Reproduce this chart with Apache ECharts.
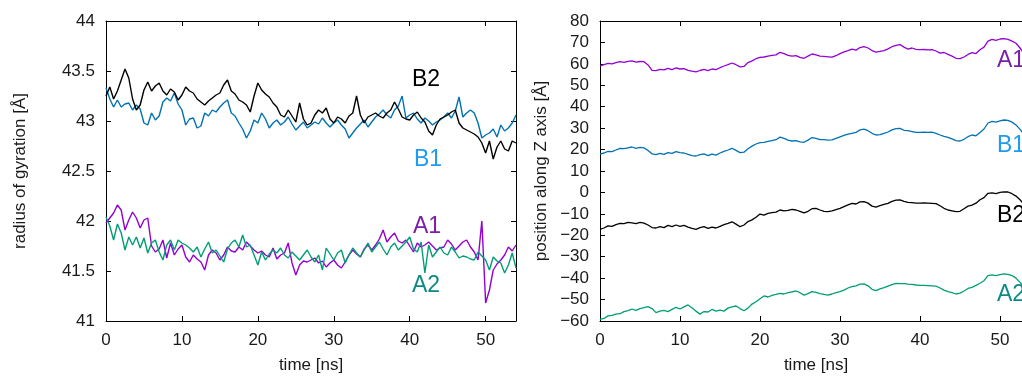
<!DOCTYPE html>
<html>
<head>
<meta charset="utf-8">
<title>Radius of gyration and Z position</title>
<script src="https://cdn.jsdelivr.net/npm/echarts@6.0.0/dist/echarts.min.js"></script>
<style>
  html, body { margin: 0; padding: 0; background: #fff; }
  #main { width: 1022px; height: 376px; }
</style>
</head>
<body>
<div id="main"></div>
<script>
// sampling step of all series [ns]
const dt = 0.5;

// left panel: radius of gyration [Å], one value every 0.5 ns from 0 to 54 ns
const rgA1 = [
  41.98, 42.03, 42.08, 42.16, 42.11, 41.91, 42.01, 42.09, 42.03, 41.93,
  42.01, 42.03, 41.75, 41.69, 41.72, 41.81, 41.63, 41.78, 41.66, 41.72,
  41.76, 41.64, 41.59, 41.66, 41.62, 41.59, 41.51, 41.66, 41.71, 41.68,
  41.61, 41.66, 41.74, 41.70, 41.69, 41.74, 41.71, 41.79, 41.75, 41.71,
  41.68, 41.70, 41.66, 41.64, 41.73, 41.62, 41.66, 41.68, 41.78, 41.58,
  41.46, 41.56, 41.60, 41.59, 41.61, 41.63, 41.58, 41.60, 41.54, 41.58,
  41.61, 41.56, 41.53, 41.59, 41.66, 41.71, 41.67, 41.64, 41.72, 41.76,
  41.71, 41.76, 41.82, 41.91, 41.79, 41.84, 41.88, 41.80, 41.78, 41.81,
  41.75, 41.69, 41.78, 41.74, 41.76, 41.79, 41.75, 41.71, 41.73, 41.74,
  41.81, 41.77, 41.71, 41.75, 41.79, 41.81, 41.74, 41.69, 41.61, 42.00,
  41.18, 41.31, 41.51, 41.57, 41.61, 41.66, 41.74, 41.70, 41.76
];
const rgA2 = [
  42.04, 41.95, 41.81, 41.97, 41.88, 41.71, 41.84, 41.76, 41.84, 41.73,
  41.83, 41.68, 41.78, 41.81, 41.69, 41.61, 41.76, 41.81, 41.71, 41.81,
  41.78, 41.76, 41.73, 41.69, 41.74, 41.64, 41.72, 41.79, 41.68, 41.71,
  41.65, 41.59, 41.72, 41.78, 41.81, 41.74, 41.86, 41.74, 41.76, 41.66,
  41.56, 41.69, 41.61, 41.67, 41.71, 41.68, 41.73, 41.66, 41.63, 41.69,
  41.65, 41.61, 41.66, 41.71, 41.64, 41.59, 41.66, 41.51, 41.73, 41.67,
  41.61, 41.68, 41.71, 41.58, 41.66, 41.73, 41.68, 41.64, 41.71, 41.78,
  41.69, 41.74, 41.79, 41.72, 41.66, 41.74, 41.78, 41.71, 41.75, 41.79,
  41.84, 41.72, 41.69, 41.79, 41.48, 41.76, 41.64, 41.69, 41.74, 41.68,
  41.66, 41.74, 41.69, 41.63, 41.65, 41.64, 41.62, 41.61, 41.69, 41.65,
  41.61, 41.51, 41.64, 41.60, 41.58, 41.48, 41.56, 41.68, 41.53
];
const rgB1 = [
  43.33, 43.22, 43.14, 43.21, 43.14, 43.17, 43.18, 43.11, 43.16, 43.12,
  42.98, 42.96, 43.08, 43.01, 43.05, 43.19, 43.23, 43.20, 43.28, 43.17,
  43.11, 42.96, 43.02, 43.03, 42.93, 42.95, 43.08, 43.05, 43.11, 43.09,
  43.14, 43.18, 43.21, 43.08, 43.05, 42.98, 42.92, 42.83, 42.90, 43.01,
  42.98, 43.08, 43.02, 42.93, 42.98, 43.01, 42.96, 42.99, 43.04, 42.97,
  42.91, 42.95, 42.99, 42.93, 42.96, 42.99, 42.97, 43.03, 42.98, 42.94,
  42.98, 43.01, 42.96, 42.92, 42.83, 42.88, 42.93, 42.97, 43.01, 42.94,
  42.99, 43.04, 43.07, 43.11, 43.06, 43.03, 43.11, 43.15, 43.25, 43.03,
  43.06, 43.08, 43.02, 42.98, 43.03, 43.00, 42.96, 42.99, 43.01, 43.04,
  43.08, 43.03, 43.10, 43.24, 43.04, 43.08, 43.11, 43.08, 42.98, 42.83,
  42.86, 42.88, 42.92, 42.84, 42.96, 42.90, 42.93, 42.98, 43.06
];
const rgB2 = [
  43.25, 43.34, 43.22, 43.30, 43.41, 43.52, 43.43, 43.22, 43.11, 43.16,
  43.31, 43.39, 43.30, 43.35, 43.38, 43.30, 43.26, 43.32, 43.29, 43.21,
  43.26, 43.34, 43.30, 43.28, 43.22, 43.19, 43.16, 43.20, 43.23, 43.26,
  43.28, 43.36, 43.41, 43.30, 43.27, 43.21, 43.19, 43.16, 43.09, 43.25,
  43.38, 43.31, 43.27, 43.24, 43.18, 43.14, 43.06, 43.04, 43.11, 43.05,
  42.99, 43.18, 43.02, 42.96, 42.98, 43.06, 43.11, 43.08, 43.13, 43.02,
  42.98, 43.04, 43.02, 42.98, 43.05, 43.08, 43.25, 43.06, 42.98, 43.04,
  43.06, 43.08, 43.05, 43.03, 43.08, 43.11, 43.19, 43.12, 43.04, 43.02,
  43.01, 43.06, 43.09, 43.03, 42.99, 42.90, 42.86, 42.96, 43.02, 43.04,
  43.06, 43.09, 43.11, 42.98, 42.93, 42.91, 42.89, 42.87, 42.84, 42.78,
  42.68, 42.80, 42.62, 42.74, 42.80, 42.72, 42.70, 42.80, 42.78
];

// right panel: position along Z axis [Å], same sampling
const zA1 = [
  59.0, 59.6, 60.2, 60.0, 60.6, 61.0, 60.7, 61.2, 61.4, 60.8,
  61.1, 61.0, 59.5, 57.0, 56.8, 57.4, 57.2, 57.9, 57.3, 58.1,
  57.6, 57.8, 57.0, 56.6, 56.3, 56.9, 57.4, 56.8, 57.6, 57.3,
  58.2, 59.0, 59.6, 60.4, 59.6, 58.6, 58.8, 60.6, 61.4, 62.4,
  63.0, 63.2, 63.6, 64.0, 64.2, 65.4, 64.8, 64.0, 63.6, 63.8,
  63.0, 62.6, 63.6, 64.6, 64.2, 63.6, 63.5, 63.3, 63.1, 63.8,
  64.8, 65.6, 66.2, 66.9, 66.4, 67.6, 68.0, 67.4, 66.2, 65.5,
  65.8, 66.2, 67.0, 68.0, 68.6, 69.0, 67.8, 66.9, 67.4, 66.8,
  66.6, 66.7, 66.5, 66.6, 66.0, 65.0, 65.3, 64.4, 63.6, 62.6,
  62.4, 63.2, 64.4, 65.2, 64.8, 66.6, 67.8, 70.6, 71.4, 71.0,
  71.6, 71.8, 71.4, 70.6, 69.6, 67.4, 64.8, 63.0, 61.5
];
const zB1 = [
  17.9, 18.4, 19.2, 19.0, 19.8, 20.6, 20.4, 20.8, 21.2, 20.6,
  21.0, 20.8, 19.6, 18.0, 17.6, 18.2, 17.8, 18.6, 18.2, 19.0,
  18.6, 18.4, 17.8, 17.2, 17.0, 17.6, 18.0, 17.2, 17.9, 17.4,
  18.4, 19.2, 19.8, 20.6, 19.6, 18.6, 18.8, 20.4, 21.6, 22.6,
  23.2, 23.4, 23.8, 24.2, 24.6, 25.8, 25.2, 24.4, 24.0, 24.2,
  23.6, 23.4, 24.4, 25.6, 25.2, 24.6, 24.6, 24.4, 24.5, 25.2,
  25.9, 26.6, 27.2, 27.6, 28.0, 29.2, 29.5, 28.8, 27.6, 26.8,
  27.0, 27.6, 28.2, 29.2, 29.8, 29.9, 29.0, 28.8, 28.4, 28.0,
  28.0, 28.1, 28.0, 28.1, 27.6, 26.8, 26.2, 25.7, 25.0, 24.2,
  24.0, 24.8, 26.0, 26.8, 26.4, 28.0, 29.6, 32.4, 33.2, 32.8,
  33.4, 33.8, 33.6, 32.8, 31.5, 29.4, 27.2, 25.6, 24.5
];
const zB2 = [
  -17.2, -16.6, -15.6, -15.8, -15.0, -14.4, -14.6, -14.0, -14.2, -14.6,
  -14.0, -14.3, -15.2, -16.4, -16.6, -16.0, -16.4, -15.4, -16.0, -15.2,
  -15.8, -15.4, -16.2, -16.8, -17.2, -16.4, -16.0, -16.8, -16.2, -16.6,
  -15.8, -15.0, -14.4, -13.7, -14.8, -16.0, -15.2, -13.6, -12.8, -11.6,
  -10.1, -10.6, -9.8, -9.4, -9.2, -8.2, -8.6, -8.4, -7.9, -8.2,
  -8.8, -9.5, -8.8, -7.6, -7.4, -8.2, -8.8, -9.0, -8.6, -8.0,
  -7.4, -6.6, -5.8, -5.1, -5.4, -4.4, -4.3, -5.0, -6.4, -6.9,
  -6.2, -5.6, -5.1, -4.2, -3.6, -3.5, -4.2, -4.6, -4.8, -5.0,
  -5.0, -4.9, -5.0, -5.1, -5.2, -6.2, -7.4, -8.2, -8.6, -9.0,
  -8.8, -7.6, -6.4, -5.9, -5.0, -3.4, -2.4, -0.4, -0.2, -0.6,
  0.0, 0.3, 0.2, -0.6, -1.7, -3.4, -5.6, -7.2, -8.2
];
const zA2 = [
  -59.2, -58.8, -57.6, -57.4, -56.8, -56.6, -55.6, -55.2, -54.4, -55.0,
  -54.2, -53.8, -53.3, -54.2, -56.1, -55.4, -55.0, -55.6, -54.6, -53.6,
  -54.4, -53.4, -52.5, -53.8, -55.4, -56.8, -55.6, -55.8, -54.6, -55.4,
  -54.9, -55.4, -54.0, -53.4, -53.0, -54.2, -55.2, -54.0, -52.1, -51.0,
  -49.6, -48.3, -48.8, -48.0, -47.6, -47.1, -47.4, -46.8, -46.4, -46.0,
  -46.8, -47.9, -47.2, -46.3, -46.6, -47.2, -47.6, -47.9, -47.4, -46.8,
  -46.3, -45.6, -44.6, -44.0, -43.6, -42.8, -42.7, -43.6, -45.2, -45.8,
  -45.0, -44.4, -43.7, -43.0, -42.4, -42.6, -42.6, -42.8, -42.9, -43.2,
  -43.4, -43.4, -43.5, -43.6, -43.7, -44.6, -45.6, -46.3, -46.8, -47.4,
  -47.0, -46.0, -44.8, -44.3, -43.4, -42.4, -41.2, -38.8, -38.5, -38.8,
  -38.4, -38.0, -38.2, -38.8, -40.0, -42.0, -44.0, -45.6, -46.4
];

const colors = { A1: '#9400d3', A2: '#009e73', B1: '#0072b2', B2: '#000000' };
const labelColors = { A1: '#7b1fa6', A2: '#0d8a86', B1: '#1f9bf0', B2: '#000000' };

const font = '"Liberation Sans", Arial, Helvetica, sans-serif';
const textColor = '#1a1a1a';

const toPairs = (vals) => vals.map((v, i) => [i * dt, v]);

const chart = echarts.init(document.getElementById('main'));

// one x axis (bottom or mirrored top) in gnuplot box style
function xAxisFor(gridIndex, position) {
  const isMain = position === 'bottom';
  return {
    type: 'value',
    gridIndex: gridIndex,
    position: position,
    min: 0,
    max: 54,
    interval: 10,
    name: isMain ? 'time [ns]' : '',
    nameLocation: 'middle',
    nameGap: 36,
    nameTextStyle: { color: textColor, fontSize: 17, fontFamily: font },
    axisLine: { show: true, onZero: false, lineStyle: { color: '#000', width: 1 } },
    axisTick: { show: true, inside: true, length: 5, lineStyle: { color: '#000', width: 1 } },
    axisLabel: {
      show: isMain,
      color: textColor,
      fontSize: 17,
      fontFamily: font,
      margin: 11,
      formatter: (v) => (v % 10 === 0 ? String(v) : ''),
    },
    splitLine: { show: false },
  };
}

function yAxisFor(gridIndex, position, min, max, interval, name, nameGap) {
  const isMain = position === 'left';
  return {
    type: 'value',
    gridIndex: gridIndex,
    position: position,
    min: min,
    max: max,
    interval: interval,
    name: isMain ? name : '',
    nameLocation: 'middle',
    nameRotate: 90,
    nameGap: nameGap,
    nameTextStyle: { color: textColor, fontSize: 17, fontFamily: font },
    axisLine: { show: true, onZero: false, lineStyle: { color: '#000', width: 1 } },
    axisTick: { show: true, inside: true, length: 5, lineStyle: { color: '#000', width: 1 } },
    axisLabel: {
      show: isMain,
      color: textColor,
      fontSize: 17,
      fontFamily: font,
      margin: 11,
      formatter: (v) => String(v).replace('-', '\u2212'),
    },
    splitLine: { show: false },
  };
}

function lineSeries(name, data, xIdx, yIdx, width) {
  return {
    name: name,
    type: 'line',
    xAxisIndex: xIdx,
    yAxisIndex: yIdx,
    data: toPairs(data),
    showSymbol: false,
    symbol: 'none',
    clip: true,
    lineStyle: { color: colors[name], width: width },
    emphasis: { disabled: true },
  };
}

function label(text, x, y, color) {
  return {
    type: 'text',
    x: x,
    y: y,
    style: {
      text: text,
      fill: color,
      font: '23px ' + font,
      verticalAlign: 'middle',
    },
  };
}

const option = {
  animation: false,
  backgroundColor: '#ffffff',
  grid: [
    { left: 106, top: 21, width: 410, height: 300, containLabel: false, outerBoundsMode: 'none' },
    { left: 600, top: 21, width: 432, height: 300, containLabel: false, outerBoundsMode: 'none' },
  ],
  xAxis: [
    xAxisFor(0, 'bottom'),
    xAxisFor(0, 'top'),
    xAxisFor(1, 'bottom'),
    xAxisFor(1, 'top'),
  ],
  yAxis: [
    yAxisFor(0, 'left', 41, 44, 0.5, 'radius of gyration [Å]', 77),
    yAxisFor(0, 'right', 41, 44, 0.5, '', 0),
    yAxisFor(1, 'left', -60, 80, 10, 'position along Z axis [Å]', 50),
    yAxisFor(1, 'right', -60, 80, 10, '', 0),
  ],
  series: [
    lineSeries('A1', rgA1, 0, 0, 1.4),
    lineSeries('A2', rgA2, 0, 0, 1.4),
    lineSeries('B1', rgB1, 0, 0, 1.4),
    lineSeries('B2', rgB2, 0, 0, 1.4),
    lineSeries('A1', zA1, 2, 2, 1.3),
    lineSeries('B1', zB1, 2, 2, 1.3),
    lineSeries('B2', zB2, 2, 2, 1.3),
    lineSeries('A2', zA2, 2, 2, 1.3),
  ],
  graphic: [
    label('B2', 412, 80, labelColors.B2),
    label('B1', 414, 160, labelColors.B1),
    label('A1', 413, 227, labelColors.A1),
    label('A2', 412, 286, labelColors.A2),
    label('A1', 997, 61, labelColors.A1),
    label('B1', 997, 146, labelColors.B1),
    label('B2', 997, 216, labelColors.B2),
    label('A2', 997, 295, labelColors.A2),
  ],
};

chart.setOption(option);
</script>
</body>
</html>
